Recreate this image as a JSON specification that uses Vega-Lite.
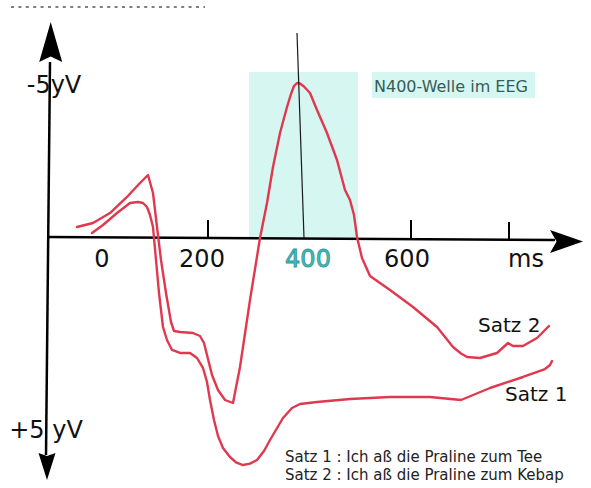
{
  "$schema": "https://vega.github.io/schema/vega-lite/v6.json",
  "width": 591,
  "height": 488,
  "padding": 0,
  "autosize": {"type": "fit", "contains": "padding"},
  "background": "white",
  "config": {"view": {"stroke": null}},
  "datasets": {
    "curves": [
      {"s": "Satz 2", "i": 1, "x": -62, "y": -0.367},
      {"s": "Satz 2", "i": 2, "x": -30, "y": -0.5},
      {"s": "Satz 2", "i": 3, "x": 4, "y": -0.833},
      {"s": "Satz 2", "i": 4, "x": 38, "y": -1.367},
      {"s": "Satz 2", "i": 5, "x": 64, "y": -1.833},
      {"s": "Satz 2", "i": 6, "x": 80, "y": -2.1},
      {"s": "Satz 2", "i": 7, "x": 90, "y": -1.5},
      {"s": "Satz 2", "i": 8, "x": 98, "y": -0.367},
      {"s": "Satz 2", "i": 9, "x": 106, "y": 0.733},
      {"s": "Satz 2", "i": 10, "x": 116, "y": 1.833},
      {"s": "Satz 2", "i": 11, "x": 126, "y": 2.8},
      {"s": "Satz 2", "i": 12, "x": 132, "y": 3.1},
      {"s": "Satz 2", "i": 13, "x": 144, "y": 3.133},
      {"s": "Satz 2", "i": 14, "x": 170, "y": 3.167},
      {"s": "Satz 2", "i": 15, "x": 184, "y": 3.267},
      {"s": "Satz 2", "i": 16, "x": 192, "y": 3.5},
      {"s": "Satz 2", "i": 17, "x": 198, "y": 3.9},
      {"s": "Satz 2", "i": 18, "x": 208, "y": 4.567},
      {"s": "Satz 2", "i": 19, "x": 220, "y": 5.067},
      {"s": "Satz 2", "i": 20, "x": 234, "y": 5.4},
      {"s": "Satz 2", "i": 21, "x": 250, "y": 5.5},
      {"s": "Satz 2", "i": 22, "x": 264, "y": 4.3},
      {"s": "Satz 2", "i": 23, "x": 284, "y": 2.067},
      {"s": "Satz 2", "i": 24, "x": 304, "y": 0},
      {"s": "Satz 2", "i": 25, "x": 318, "y": -1.167},
      {"s": "Satz 2", "i": 26, "x": 330, "y": -2.367},
      {"s": "Satz 2", "i": 27, "x": 344, "y": -3.5},
      {"s": "Satz 2", "i": 28, "x": 358, "y": -4.367},
      {"s": "Satz 2", "i": 29, "x": 366, "y": -4.8},
      {"s": "Satz 2", "i": 30, "x": 372, "y": -5.067},
      {"s": "Satz 2", "i": 31, "x": 378, "y": -5.167},
      {"s": "Satz 2", "i": 32, "x": 384, "y": -5.15},
      {"s": "Satz 2", "i": 33, "x": 392, "y": -5.05},
      {"s": "Satz 2", "i": 34, "x": 404, "y": -4.833},
      {"s": "Satz 2", "i": 35, "x": 418, "y": -4.267},
      {"s": "Satz 2", "i": 36, "x": 438, "y": -3.5},
      {"s": "Satz 2", "i": 37, "x": 458, "y": -2.6},
      {"s": "Satz 2", "i": 38, "x": 474, "y": -1.6},
      {"s": "Satz 2", "i": 39, "x": 484, "y": -1.267},
      {"s": "Satz 2", "i": 40, "x": 492, "y": -0.767},
      {"s": "Satz 2", "i": 41, "x": 498, "y": -0.033},
      {"s": "Satz 2", "i": 42, "x": 508, "y": 0.667},
      {"s": "Satz 2", "i": 43, "x": 524, "y": 1.267},
      {"s": "Satz 2", "i": 44, "x": 564, "y": 1.733},
      {"s": "Satz 2", "i": 45, "x": 610, "y": 2.3},
      {"s": "Satz 2", "i": 46, "x": 658, "y": 2.967},
      {"s": "Satz 2", "i": 47, "x": 690, "y": 3.633},
      {"s": "Satz 2", "i": 48, "x": 706, "y": 3.85},
      {"s": "Satz 2", "i": 49, "x": 718, "y": 3.967},
      {"s": "Satz 2", "i": 50, "x": 744, "y": 4.0},
      {"s": "Satz 2", "i": 51, "x": 778, "y": 3.833},
      {"s": "Satz 2", "i": 52, "x": 800, "y": 3.5},
      {"s": "Satz 2", "i": 53, "x": 810, "y": 3.6},
      {"s": "Satz 2", "i": 54, "x": 830, "y": 3.6},
      {"s": "Satz 2", "i": 55, "x": 858, "y": 3.333},
      {"s": "Satz 2", "i": 56, "x": 882, "y": 2.933},
      {"s": "Satz 1", "i": 1, "x": -32, "y": -0.167},
      {"s": "Satz 1", "i": 2, "x": -10, "y": -0.433},
      {"s": "Satz 1", "i": 3, "x": 18, "y": -0.833},
      {"s": "Satz 1", "i": 4, "x": 44, "y": -1.167},
      {"s": "Satz 1", "i": 5, "x": 60, "y": -1.2},
      {"s": "Satz 1", "i": 6, "x": 70, "y": -1.167},
      {"s": "Satz 1", "i": 7, "x": 78, "y": -1.033},
      {"s": "Satz 1", "i": 8, "x": 84, "y": -0.767},
      {"s": "Satz 1", "i": 9, "x": 90, "y": -0.367},
      {"s": "Satz 1", "i": 10, "x": 96, "y": 0.733},
      {"s": "Satz 1", "i": 11, "x": 102, "y": 1.833},
      {"s": "Satz 1", "i": 12, "x": 110, "y": 2.967},
      {"s": "Satz 1", "i": 13, "x": 118, "y": 3.4},
      {"s": "Satz 1", "i": 14, "x": 128, "y": 3.733},
      {"s": "Satz 1", "i": 15, "x": 144, "y": 3.833},
      {"s": "Satz 1", "i": 16, "x": 164, "y": 3.833},
      {"s": "Satz 1", "i": 17, "x": 178, "y": 4.0},
      {"s": "Satz 1", "i": 18, "x": 190, "y": 4.333},
      {"s": "Satz 1", "i": 19, "x": 198, "y": 4.8},
      {"s": "Satz 1", "i": 20, "x": 204, "y": 5.4},
      {"s": "Satz 1", "i": 21, "x": 212, "y": 6.067},
      {"s": "Satz 1", "i": 22, "x": 220, "y": 6.6},
      {"s": "Satz 1", "i": 23, "x": 230, "y": 7.0},
      {"s": "Satz 1", "i": 24, "x": 244, "y": 7.3},
      {"s": "Satz 1", "i": 25, "x": 256, "y": 7.48},
      {"s": "Satz 1", "i": 26, "x": 270, "y": 7.567},
      {"s": "Satz 1", "i": 27, "x": 284, "y": 7.52},
      {"s": "Satz 1", "i": 28, "x": 298, "y": 7.4},
      {"s": "Satz 1", "i": 29, "x": 312, "y": 7.1},
      {"s": "Satz 1", "i": 30, "x": 324, "y": 6.733},
      {"s": "Satz 1", "i": 31, "x": 350, "y": 6.0},
      {"s": "Satz 1", "i": 32, "x": 368, "y": 5.667},
      {"s": "Satz 1", "i": 33, "x": 384, "y": 5.533},
      {"s": "Satz 1", "i": 34, "x": 418, "y": 5.467},
      {"s": "Satz 1", "i": 35, "x": 484, "y": 5.367},
      {"s": "Satz 1", "i": 36, "x": 564, "y": 5.3},
      {"s": "Satz 1", "i": 37, "x": 644, "y": 5.3},
      {"s": "Satz 1", "i": 38, "x": 706, "y": 5.4},
      {"s": "Satz 1", "i": 39, "x": 764, "y": 5.0},
      {"s": "Satz 1", "i": 40, "x": 830, "y": 4.633},
      {"s": "Satz 1", "i": 41, "x": 874, "y": 4.367},
      {"s": "Satz 1", "i": 42, "x": 884, "y": 4.233},
      {"s": "Satz 1", "i": 43, "x": 888, "y": 4.1}
    ],
    "boxes": [
      {"name": "N400", "x": 282, "y": -5.533, "x2": 500, "y2": 0},
      {"name": "label", "x": 528, "y": -5.533, "x2": 854, "y2": -4.667}
    ],
    "axes": [
      {"name": "time", "x": -120, "y": -0.033, "x2": 894, "y2": 0.067},
      {"name": "voltage", "x": -116, "y": -5.867, "x2": -124, "y2": 7.233}
    ],
    "ticks": [
      {"x": 200, "y": -0.6, "x2": 200, "y2": 0},
      {"x": 606, "y": -0.6, "x2": 606, "y2": 0.033},
      {"x": 802, "y": -0.533, "x2": 802, "y2": 0.033}
    ],
    "needle": [{"x": 378, "y": -6.833, "x2": 392, "y2": 0}],
    "dots": [{"x": -194, "y": -7.7, "x2": 194, "y2": -7.7}],
    "arrowUp": [{"x": -114.6, "y": -6.533}],
    "arrowDown": [{"x": -122, "y": 7.617}],
    "arrowRight": [{"x": 917, "y": 0.117}],
    "bigLabels": [
      {"t": "-5yV", "x": -108, "y": -4.833},
      {"t": "+5 yV", "x": -124, "y": 6.667},
      {"t": "0", "x": -12, "y": 0.967},
      {"t": "200", "x": 188, "y": 0.967},
      {"t": "600", "x": 598, "y": 0.967},
      {"t": "ms", "x": 836, "y": 0.967}
    ],
    "tealLabel": [{"t": "400", "x": 400, "y": 0.967}],
    "seriesLabels": [
      {"t": "Satz 2", "x": 740, "y": 3.133},
      {"t": "Satz 1", "x": 794, "y": 5.433}
    ],
    "legendText": [
      {"t": "Satz 1 : Ich aß die Praline zum Tee", "x": 354, "y": 7.467},
      {"t": "Satz 2 : Ich aß die Praline zum Kebap", "x": 354, "y": 8.067}
    ],
    "boxText": [{"t": "N400-Welle im EEG", "x": 532, "y": -4.867}]
  },
  "encoding": {
    "x": {"field": "x", "type": "quantitative", "scale": {"domain": [-216, 966], "nice": false, "zero": false}, "axis": null},
    "y": {"field": "y", "type": "quantitative", "scale": {"domain": [-7.9333, 8.3333], "nice": false, "zero": false, "reverse": true}, "axis": null}
  },
  "layer": [
    {
      "data": {"name": "boxes"},
      "mark": {"type": "rect", "color": "#d6f6f2"},
      "encoding": {"x2": {"field": "x2"}, "y2": {"field": "y2"}}
    },
    {
      "data": {"name": "dots"},
      "mark": {"type": "rule", "color": "#555555", "strokeWidth": 1.5, "strokeDash": [3, 4.4]},
      "encoding": {"x2": {"field": "x2"}, "y2": {"field": "y2"}}
    },
    {
      "data": {"name": "axes"},
      "mark": {"type": "rule", "color": "#000000", "strokeWidth": 2.5},
      "encoding": {"x2": {"field": "x2"}, "y2": {"field": "y2"}}
    },
    {
      "data": {"name": "ticks"},
      "mark": {"type": "rule", "color": "#000000", "strokeWidth": 2},
      "encoding": {"x2": {"field": "x2"}, "y2": {"field": "y2"}}
    },
    {
      "data": {"name": "curves"},
      "mark": {"type": "line", "color": "#e0384f", "strokeWidth": 2.4, "strokeJoin": "round", "strokeCap": "round"},
      "encoding": {"detail": {"field": "s"}, "order": {"field": "i", "type": "quantitative"}}
    },
    {
      "data": {"name": "needle"},
      "mark": {"type": "rule", "color": "#1a1a1a", "strokeWidth": 1.2},
      "encoding": {"x2": {"field": "x2"}, "y2": {"field": "y2"}}
    },
    {
      "data": {"name": "arrowUp"},
      "mark": {"type": "point", "filled": true, "color": "#000000", "opacity": 1, "size": 1600, "shape": "M0,-1L0.575,1L0,0.72L-0.575,1Z"}
    },
    {
      "data": {"name": "arrowDown"},
      "mark": {"type": "point", "filled": true, "color": "#000000", "opacity": 1, "size": 729, "shape": "M0,1L0.63,-1L0,-0.78L-0.63,-1Z"}
    },
    {
      "data": {"name": "arrowRight"},
      "mark": {"type": "point", "filled": true, "color": "#000000", "opacity": 1, "size": 1089, "shape": "M1,0L-1,-0.7L-0.6,0L-1,0.7Z"}
    },
    {
      "data": {"name": "bigLabels"},
      "mark": {"type": "text", "font": "DejaVu Sans", "fontSize": 24, "color": "#111111", "align": "center", "baseline": "alphabetic"},
      "encoding": {"text": {"field": "t"}}
    },
    {
      "data": {"name": "tealLabel"},
      "mark": {"type": "text", "font": "DejaVu Sans", "fontSize": 24, "fill": "#4fbaba", "stroke": "#2a9a9a", "strokeWidth": 0.9, "align": "center", "baseline": "alphabetic"},
      "encoding": {"text": {"field": "t"}}
    },
    {
      "data": {"name": "seriesLabels"},
      "mark": {"type": "text", "font": "DejaVu Sans", "fontSize": 20, "color": "#111111", "align": "left", "baseline": "alphabetic"},
      "encoding": {"text": {"field": "t"}}
    },
    {
      "data": {"name": "legendText"},
      "mark": {"type": "text", "font": "DejaVu Sans", "fontSize": 15, "color": "#222222", "align": "left", "baseline": "alphabetic"},
      "encoding": {"text": {"field": "t"}}
    },
    {
      "data": {"name": "boxText"},
      "mark": {"type": "text", "font": "DejaVu Sans", "fontSize": 16, "color": "#355c58", "align": "left", "baseline": "alphabetic"},
      "encoding": {"text": {"field": "t"}}
    }
  ]
}
